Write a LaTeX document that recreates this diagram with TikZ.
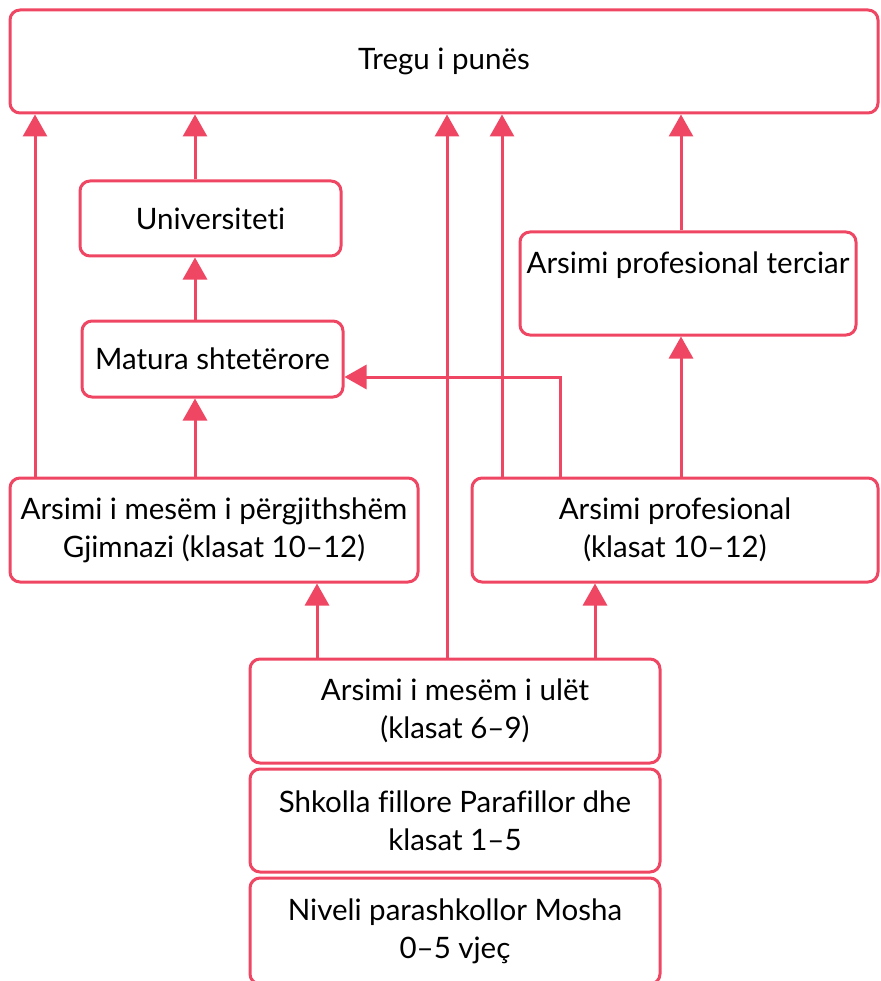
\documentclass[tikz,border=0pt]{standalone}
\usepackage{fontspec}
\setmainfont{Lato}[Ligatures=NoCommon]
\usepackage{tikz}
\usetikzlibrary{arrows.meta,calc}
\definecolor{edured}{RGB}{239,71,99}

\begin{document}
\begin{tikzpicture}[x=1pt, y=-1pt,
	box/.style={draw=edured, line width=3pt, rounded corners=10pt, fill=white, align=center, inner sep=0pt},
	up/.style={draw=edured, line width=3pt, -{Triangle[length=22pt,width=24pt]}}]
	\useasboundingbox (0,0) rectangle (880,981);
	\fontsize{29.5}{38}\selectfont
	% boxes
	\node[box, minimum width=868, minimum height=103] (tregu) at (444,61.5) {Tregu i punës};
	\node[box, minimum width=261, minimum height=75] (univ) at (210.5,218.5) {Universiteti};
	\node[box, minimum width=261, minimum height=76] (matura) at (212.5,359) {Matura shtetërore};
	\node[box, minimum width=336, minimum height=103,
		label={[anchor=center, yshift=-35pt]north:Arsimi profesional terciar}] (terciar) at (688,283.5) {};
	\node[box, minimum width=408, minimum height=104] (gjimnazi) at (214,530) {Arsimi i mesëm i përgjithshëm\\Gjimnazi (klasat 10--12)};
	\node[box, minimum width=406, minimum height=104] (profesional) at (675,530) {Arsimi profesional\\(klasat 10--12)};
	\node[box, minimum width=410, minimum height=104] (ulet) at (455,711) {Arsimi i mesëm i ulët\\(klasat 6--9)};
	\node[box, minimum width=410, minimum height=103] (fillore) at (455,820.5) {Shkolla fillore Parafillor dhe\\klasat 1--5};
	\node[box, minimum width=410, minimum height=106] (parashkollor) at (455,931) {Niveli parashkollor Mosha\\0--5 vjeç};
	% arrows
	\draw[up] (35,0 |- gjimnazi.north) -- (35,0 |- tregu.south);
	\draw[up] (195,0 |- gjimnazi.north) -- (195,0 |- matura.south);
	\draw[up] (195,0 |- matura.north) -- (195,0 |- univ.south);
	\draw[up] (195,0 |- univ.north) -- (195,0 |- tregu.south);
	\draw[up] (447,0 |- ulet.north) -- (447,0 |- tregu.south);
	\draw[up] (502,0 |- profesional.north) -- (502,0 |- tregu.south);
	\draw[up] (681,0 |- profesional.north) -- (681,0 |- terciar.south);
	\draw[up] (681,0 |- terciar.north) -- (681,0 |- tregu.south);
	\draw[up] (560,0 |- profesional.north) |- ($(matura.east)+(0,18)$);
	\draw[up] (317,0 |- ulet.north) -- (317,0 |- gjimnazi.south);
	\draw[up] (595,0 |- ulet.north) -- (595,0 |- profesional.south);
\end{tikzpicture}
\end{document}
